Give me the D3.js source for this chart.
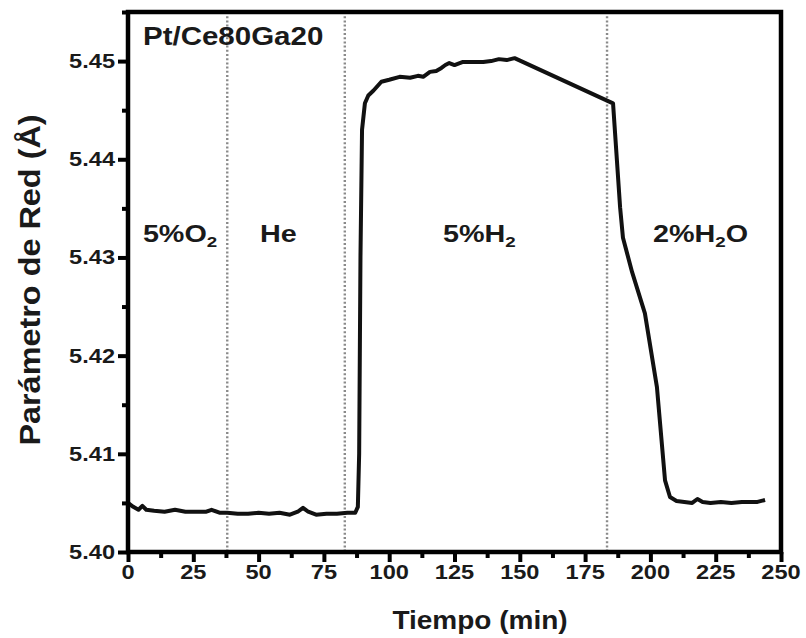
<!DOCTYPE html>
<html>
<head>
<meta charset="utf-8">
<script src="https://cdn.jsdelivr.net/npm/d3@7"></script>
<style>
  body { margin: 0; background: #fff; }
  text { font-family: "Liberation Sans", Arial, sans-serif; font-weight: bold; fill: #1a1a1a; }
</style>
</head>
<body>
<div id="chart"></div>
<script>
'use strict';

// time (min) and lattice parameter (Å)
var tiempo = [0, 2, 4, 5.5, 7, 10, 14, 18, 22, 26, 30, 32, 35, 38, 42, 46, 50, 54, 58, 62, 65, 67, 69, 72, 76, 80, 84, 87,
              88, 88.5, 89, 89.6, 90.7, 92, 94, 97, 100, 104, 108, 111, 113, 115.6, 118, 120, 121.5, 123, 125, 128, 132,
              136, 139, 142, 145, 148, 185.7, 188.4, 189.5, 193, 197.9, 202.5, 205.6, 207.5, 210, 213, 216, 218, 220,
              223, 227, 231, 235, 238, 241, 243.9];
var parametro = [5.4050, 5.4046, 5.4043, 5.4047, 5.4043, 5.4042, 5.4041, 5.4043, 5.4041, 5.4041, 5.4041, 5.4043, 5.4040, 5.4040,
                 5.4039, 5.4039, 5.4040, 5.4039, 5.4040, 5.4038, 5.4041, 5.4045, 5.4041, 5.4038, 5.4039, 5.4039, 5.4040, 5.4040,
                 5.4046, 5.4100, 5.4300, 5.4430, 5.4457, 5.4465, 5.4470, 5.4479, 5.4481, 5.4484, 5.4483, 5.4485, 5.4484, 5.4489,
                 5.4490, 5.4493, 5.4496, 5.4498, 5.4496, 5.4499, 5.4499, 5.4499, 5.4500, 5.4502, 5.4501, 5.4503, 5.4457, 5.4351,
                 5.4320, 5.4285, 5.4243, 5.4168, 5.4073, 5.4056, 5.4052, 5.4051, 5.4050, 5.4054, 5.4051, 5.4050, 5.4051, 5.4050,
                 5.4051, 5.4051, 5.4051, 5.4053];

var xTicks = [0, 25, 50, 75, 100, 125, 150, 175, 200, 225, 250];
var yTicks = [5.40, 5.41, 5.42, 5.43, 5.44, 5.45];
var cambios = [38, 83, 183.4];   // gas switch times
var etiquetas = [
  {t: 5.7,   v: 5.4316, parts: [["5%O", 0], ["2", 1]]},
  {t: 50.5,  v: 5.4316, parts: [["He", 0]]},
  {t: 120.6, v: 5.4316, parts: [["5%H", 0], ["2", 1]]},
  {t: 201,   v: 5.4316, parts: [["2%H", 0], ["2", 1], ["O", 0]]}
];

var width = 806, height = 638;
var margin = {top: 12, right: 25, bottom: 86, left: 128};
var w = width - margin.left - margin.right;
var h = height - margin.top - margin.bottom;
var stretch = 1.18;   // the original lettering is wider than Arial

var svg = d3.select("#chart").append("svg")
            .attr("width", width)
            .attr("height", height);
var g = svg.append("g").attr("transform", "translate(" + margin.left + "," + margin.top + ")");

var x = d3.scaleLinear().domain([0, 250]).range([0, w]);
var y = d3.scaleLinear().domain([5.40, 5.455]).range([h, 0]);

// dotted switch lines
g.selectAll("line.cambio")
 .data(cambios)
 .enter().append("line")
 .attr("x1", d => x(d)).attr("x2", d => x(d))
 .attr("y1", 0).attr("y2", h)
 .attr("stroke", "#8a8a8a")
 .attr("stroke-width", 2.4)
 .attr("stroke-dasharray", "2,2.2");

// data line
var line = d3.line().x((d, i) => x(tiempo[i])).y(d => y(d));
g.append("path")
 .datum(parametro)
 .attr("d", line)
 .attr("fill", "none")
 .attr("stroke", "#111")
 .attr("stroke-width", 4)
 .attr("stroke-linejoin", "round");

// frame
g.append("rect")
 .attr("width", w).attr("height", h)
 .attr("fill", "none")
 .attr("stroke", "#000")
 .attr("stroke-width", 4.5);

// axes: tick marks from d3, labels drawn below
var xAxis = g.append("g").attr("transform", "translate(0," + h + ")")
             .call(d3.axisBottom(x).tickValues(xTicks).tickSize(10).tickFormat(""));
var xMinor = g.append("g").attr("transform", "translate(0," + h + ")")
              .call(d3.axisBottom(x).tickValues(xTicks.slice(0, -1).map(d => d + 12.5)).tickSize(6).tickFormat(""));
var yAxis = g.append("g")
             .call(d3.axisLeft(y).tickValues(yTicks).tickSize(10).tickFormat(""));
var yMinor = g.append("g")
              .call(d3.axisLeft(y).tickValues(yTicks.map(d => d + 0.005)).tickSize(6).tickFormat(""));

[xAxis, xMinor, yAxis, yMinor].forEach(a => {
  a.select(".domain").remove();
  a.selectAll(".tick line").attr("stroke", "#000").attr("stroke-width", 4);
});

g.selectAll("text.xlab")
 .data(xTicks)
 .enter().append("text")
 .attr("class", "xlab")
 .attr("transform", d => "translate(" + x(d) + "," + (h + 27) + ") scale(" + stretch + ",1)")
 .attr("text-anchor", "middle")
 .attr("font-size", 20)
 .text(d3.format("d"));

g.selectAll("text.ylab")
 .data(yTicks)
 .enter().append("text")
 .attr("class", "ylab")
 .attr("transform", d => "translate(-13," + (y(d) + 7) + ") scale(" + stretch + ",1)")
 .attr("text-anchor", "end")
 .attr("font-size", 20)
 .text(d3.format(".2f"));

// sample label
g.append("text")
 .attr("transform", "translate(15,33) scale(" + stretch + ",1)")
 .attr("font-size", 25)
 .text("Pt/Ce80Ga20");

// gas labels with subscripts
etiquetas.forEach(e => {
  var t = g.append("text")
           .attr("transform", "translate(" + x(e.t) + "," + y(e.v) + ") scale(1.25,1)")
           .attr("font-size", 23);
  e.parts.forEach((p, i) => {
    var s = t.append("tspan").text(p[0]);
    if (p[1]) s.attr("font-size", 15).attr("dy", 5);
    else if (i > 0) s.attr("dy", -5);
  });
});

// axis titles
svg.append("text")
   .attr("transform", "translate(480,629) scale(1.12,1)")
   .attr("text-anchor", "middle")
   .attr("font-size", 25)
   .text("Tiempo (min)");

svg.append("text")
   .attr("transform", "translate(40,280) rotate(-90) scale(1.08,1)")
   .attr("text-anchor", "middle")
   .attr("font-size", 30)
   .text("Parámetro de Red (Å)");
</script>
</body>
</html>
